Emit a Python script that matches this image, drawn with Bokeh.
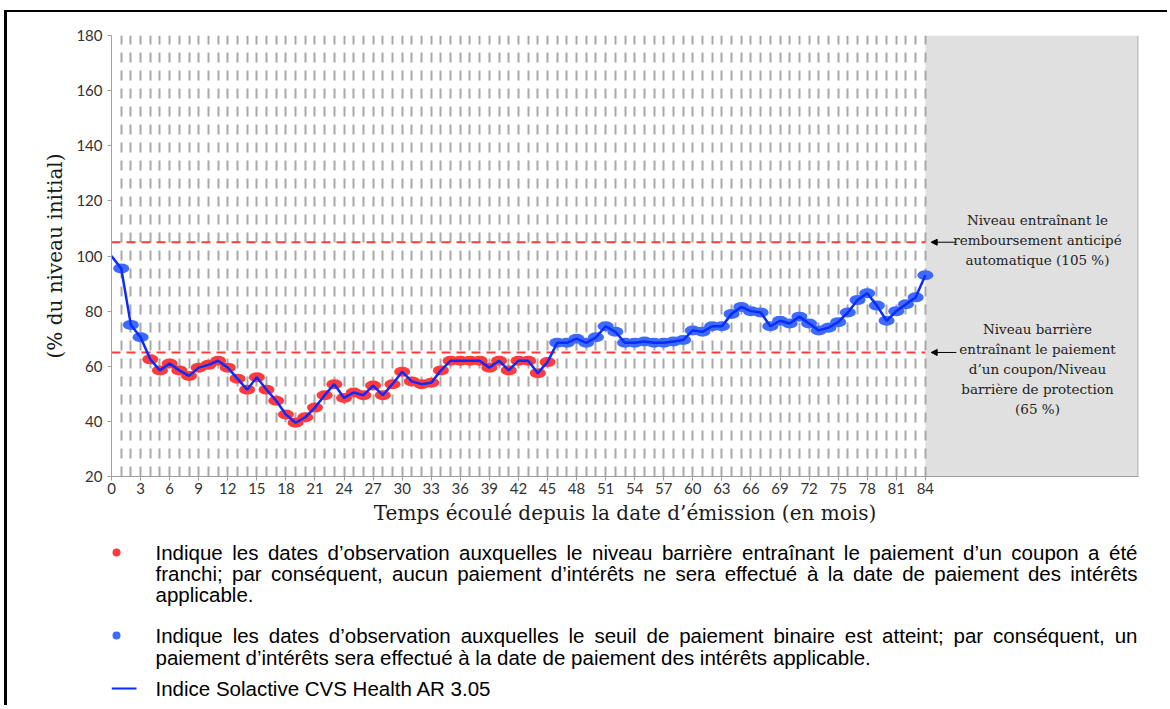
from bokeh.plotting import figure
from bokeh.layouts import column
from bokeh.models import Range1d, FixedTicker, BoxAnnotation, Span, Label, Arrow, NormalHead
from bokeh.core.properties import value
from bokeh.embed import file_html
from bokeh.resources import INLINE

# ---------------- data ----------------
months = list(range(0, 85))
index_values = [
    100, 95.5, 75, 70.5, 62.5, 58.5, 61, 58.5, 56.5, 59.5,
    60.5, 62, 59.5, 55.5, 51.5, 56, 51.5, 47.5, 42.5, 39.5,
    41.5, 45, 49.5, 53.5, 48.5, 50.5, 49.5, 53, 49.5, 53.5,
    58, 54.5, 53.5, 54, 58.5, 62, 62, 62, 62, 59.5,
    62, 58.5, 62, 62, 57.5, 61.5, 68.5, 68.5, 70, 68.5,
    70.5, 74.5, 72.5, 68.5, 68.5, 69, 68.5, 68.5, 69, 69.5,
    73, 72.5, 74.5, 74.5, 79, 81.5, 80, 79.5, 74.5, 76.5,
    75.5, 78, 75.5, 73, 74, 76, 79.5, 84, 86.5, 82,
    76.5, 80, 82.5, 85, 93,
]
x_ticks = list(range(0, 85, 3))
y_ticks = list(range(20, 181, 20))
autocall_level = 105
barrier_level = 65
maturity = 84

x_title = "Temps écoulé depuis la date d’émission (en mois)"
y_title = "(% du niveau initial)"
note_autocall = ["Niveau entraînant le", "remboursement anticipé", "automatique (105 %)"]
note_barrier = ["Niveau barrière", "entraînant le paiement", "d’un coupon/Niveau",
                "barrière de protection", "(65 %)"]
legend_red = ["Indique les dates d’observation auxquelles le niveau barrière entraînant le paiement d’un coupon a été",
              "franchi; par conséquent, aucun paiement d’intérêts ne sera effectué à la date de paiement des intérêts",
              "applicable."]
legend_blue = ["Indique les dates d’observation auxquelles le seuil de paiement binaire est atteint; par conséquent, un",
               "paiement d’intérêts sera effectué à la date de paiement des intérêts applicable."]
legend_line = "Indice Solactive CVS Health AR 3.05"

RED = "#ff3b3b"
BLUE_M = "#3d6bff"
BLUE_L = "#0a2bff"

# ---------------- geometry (page pixels) ----------------
OX, OY = 7, 12                 # content origin inside black frame
W = 1160
FRAME_LEFT, FRAME_TOP, FRAME_RIGHT, FRAME_BOTTOM = 111, 35, 1138, 476
CHART_BOTTOM = 530
H1 = CHART_BOTTOM - OY
H2 = 175


def sx(X):
    return X - FRAME_LEFT


def sy(Y):
    return FRAME_BOTTOM - Y


p = figure(width=W, height=H1, output_backend="svg", toolbar_location=None,
           x_range=Range1d(0, 106), y_range=Range1d(20, 180),
           min_border_left=FRAME_LEFT - OX, min_border_right=OX + W - FRAME_RIGHT,
           min_border_top=FRAME_TOP - OY, min_border_bottom=CHART_BOTTOM - FRAME_BOTTOM)
p.outline_line_color = None
p.background_fill_color = "white"
p.border_fill_color = "white"

# grid
p.ygrid.grid_line_color = None
p.xgrid.ticker = FixedTicker(ticks=list(range(1, maturity + 1)))
p.xgrid.grid_line_color = "#a8a8a8"
p.xgrid.grid_line_width = 2
p.xgrid.grid_line_dash = "10 8"

# grey zone after maturity
p.add_layout(BoxAnnotation(left=maturity, fill_color="#e0e0e0", fill_alpha=1,
                           line_color=None, level="image"))
p.add_layout(Span(location=105.95, dimension="height", line_color="#a0a0a0", line_width=1))

# axes
for ax in (p.xaxis[0], p.yaxis[0]):
    ax.axis_line_color = "#a0a0a0"
    ax.major_tick_line_color = "#a0a0a0"
    ax.minor_tick_line_color = None
    ax.major_tick_out = 4
    ax.major_tick_in = 0
    ax.major_label_text_font = "Lato"
    ax.major_label_text_font_size = "15px"
    ax.major_label_text_color = "#333333"
    ax.axis_label_text_font = "DejaVu Serif"
    ax.axis_label_text_font_size = "20px"
    ax.axis_label_text_font_style = "normal"
    ax.axis_label_text_color = "#1a1a1a"

p.xaxis.ticker = FixedTicker(ticks=x_ticks)
p.yaxis.ticker = FixedTicker(ticks=y_ticks)
p.xaxis.major_label_standoff = 2
p.xaxis.axis_label = x_title
p.xaxis.axis_label_standoff = 4
p.yaxis.axis_label = y_title
p.yaxis.axis_label_standoff = 6

# levels
p.segment(x0=[0, 0], y0=[autocall_level, barrier_level], x1=[maturity, maturity],
          y1=[autocall_level, barrier_level], line_color=RED, line_width=2, line_dash="9 6")

# markers
obs_m = months[1:]
obs_v = index_values[1:]
red_x = [m for m, v in zip(obs_m, obs_v) if v < barrier_level]
red_y = [v for v in obs_v if v < barrier_level]
blue_x = [m for m, v in zip(obs_m, obs_v) if v >= barrier_level]
blue_y = [v for v in obs_v if v >= barrier_level]
p.ellipse(x=red_x, y=red_y, width=16, height=10, width_units="screen", height_units="screen",
          fill_color=RED, line_color=None)
p.ellipse(x=blue_x, y=blue_y, width=16, height=10, width_units="screen", height_units="screen",
          fill_color=BLUE_M, line_color=None)
p.line(months, index_values, line_color=BLUE_L, line_width=2.5)

# arrows + notes
for lvl in (autocall_level, barrier_level):
    p.add_layout(Arrow(x_start=87.2, y_start=lvl, x_end=84.6, y_end=lvl,
                       end=NormalHead(size=6, fill_color="black", line_color="black"),
                       line_color="black", line_width=1))


def note(lines, y0):
    for i, t in enumerate(lines):
        p.add_layout(Label(x=sx(1037), y=sy(y0 + 20 * i), x_units="screen", y_units="screen",
                           text=t, text_align="center", text_baseline="middle",
                           text_font="DejaVu Serif", text_font_size="13.5px", text_color="#222222"))


note(note_autocall, 219)
note(note_barrier, 328)

# ---------------- legend figure (page-pixel coordinates) ----------------
# the column aligns this frame with the chart frame (page x 111..1138)
p2 = figure(width=W, height=H2, output_backend="svg", toolbar_location=None,
            x_range=Range1d(FRAME_LEFT, FRAME_RIGHT),
            y_range=Range1d(CHART_BOTTOM + H2, CHART_BOTTOM),
            x_axis_location=None, y_axis_location=None,
            min_border=0, min_border_left=0, min_border_right=0,
            min_border_top=0, min_border_bottom=0)
p2.grid.visible = False
p2.outline_line_color = None
p2.background_fill_color = "white"
p2.border_fill_color = "white"

AW = {' ': 278, 'a': 556, 'b': 556, 'c': 500, 'd': 556, 'e': 556, 'f': 278, 'g': 556, 'h': 556,
      'i': 222, 'j': 222, 'k': 500, 'l': 222, 'm': 833, 'n': 556, 'o': 556, 'p': 556, 'q': 556,
      'r': 333, 's': 500, 't': 278, 'u': 556, 'v': 500, 'w': 722, 'x': 500, 'y': 500, 'z': 500,
      'I': 278, 'C': 722, 'V': 667, 'S': 667, 'H': 722, 'A': 667, 'R': 722, 'N': 722,
      '’': 222, ';': 278, ',': 278, '.': 278, 'é': 556, 'è': 556, 'ê': 556, 'à': 556, 'î': 278,
      '0': 556, '1': 556, '2': 556, '3': 556, '4': 556, '5': 556, '6': 556, '7': 556, '8': 556, '9': 556}
FS = 20.5
LX0, LX1 = 155, 1137


def tw(s):
    return sum(AW.get(c, 556) for c in s) * FS / 1000.0


tx, ty, tt = [], [], []


def line_text(t, Y, justify):
    if not justify:
        tx.append(LX0); ty.append(Y); tt.append(t)
        return
    words = t.split(" ")
    total = sum(tw(w) for w in words)
    gap = (LX1 - LX0 - total) / (len(words) - 1)
    x = LX0
    for w in words:
        tx.append(x); ty.append(Y); tt.append(w)
        x += tw(w) + gap


line_text(legend_red[0], 552, True)
line_text(legend_red[1], 573, True)
line_text(legend_red[2], 594, False)
line_text(legend_blue[0], 635, True)
line_text(legend_blue[1], 657, False)
line_text(legend_line, 688, False)

p2.text(x=tx, y=ty, text=tt, text_font=value("Liberation Sans"), text_font_size=value(f"{FS}px"),
        text_align="left", text_baseline="middle", text_color="black")
p2.scatter(x=[116, 116], y=[552, 635], size=8, marker="circle",
           fill_color=[RED, BLUE_M], line_color=None)
p2.segment(x0=[111], y0=[688], x1=[136], y1=[688], line_color=BLUE_L, line_width=2)

layout = column(p, p2, spacing=0,
                styles={"margin-left": "4px", "margin-top": "10px",
                        "border-left": "3px solid black", "border-top": "2px solid black"})

open("out.html", "w").write(file_html(layout, INLINE))
